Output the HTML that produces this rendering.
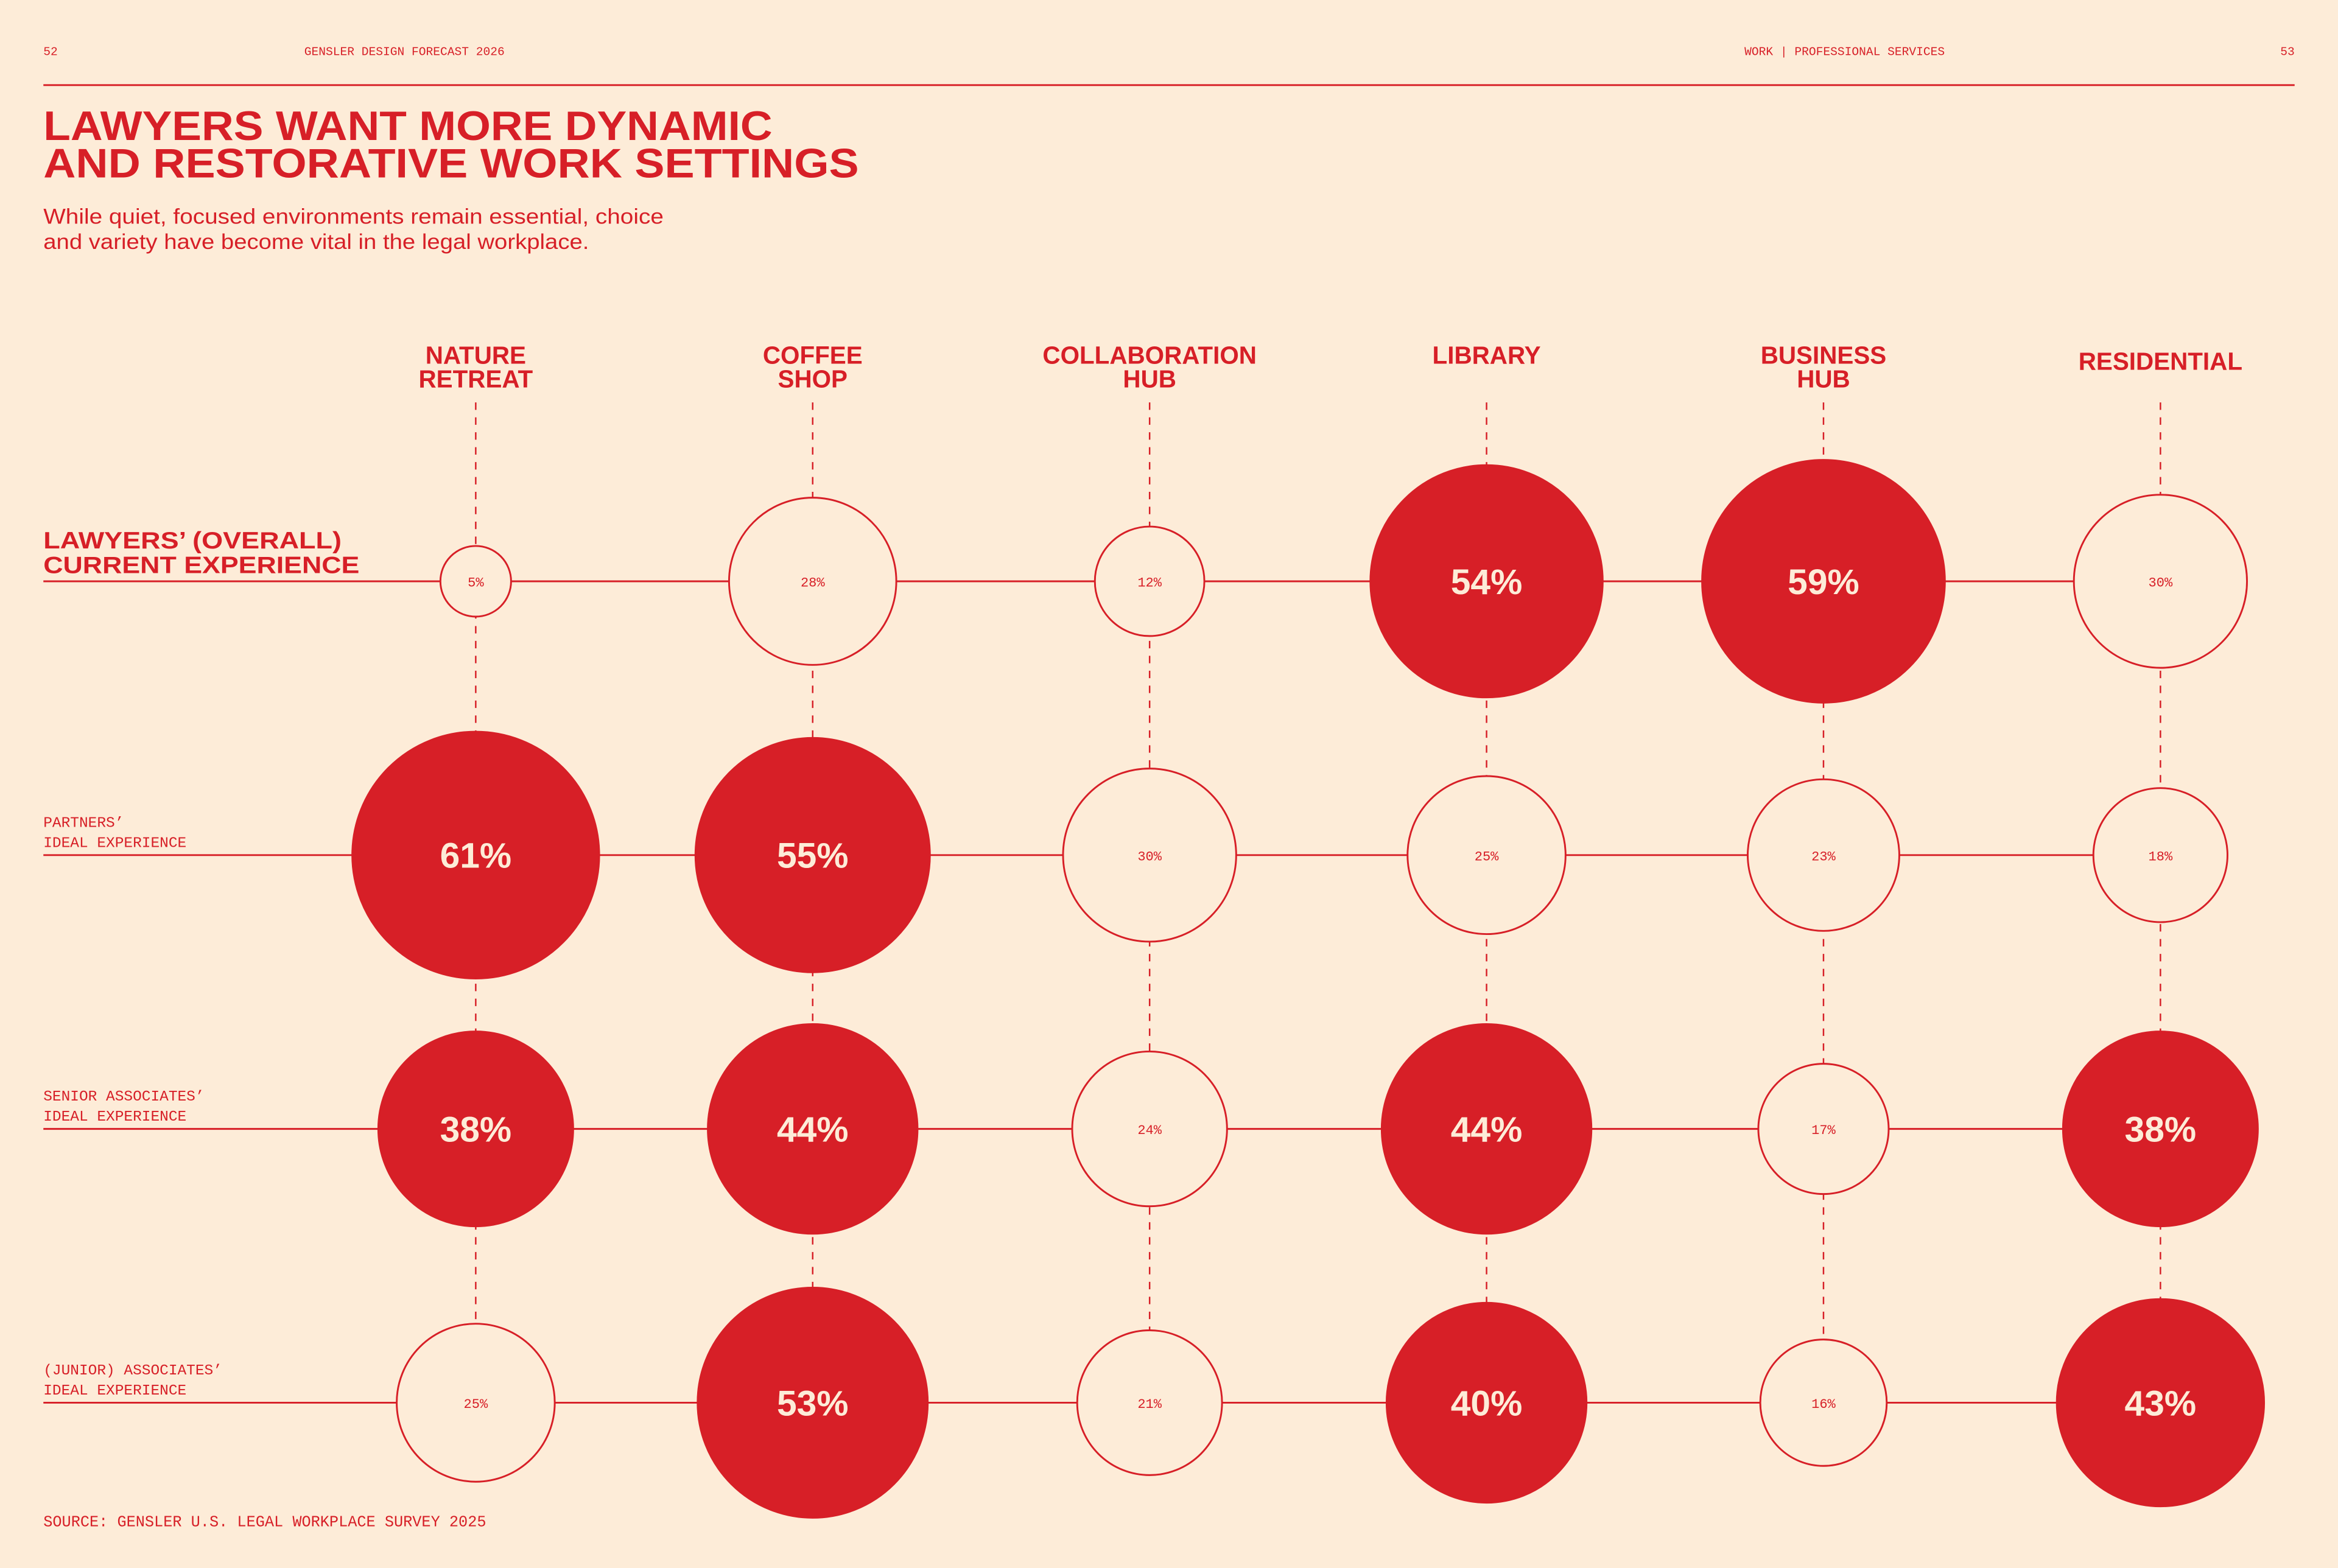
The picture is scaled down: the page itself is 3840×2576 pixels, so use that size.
<!DOCTYPE html>
<html><head><meta charset="utf-8"><style>
html,body{margin:0;padding:0;background:#fdecd8;}
svg{display:block;}
</style></head><body>
<svg id="chart" width="3840" height="2576" viewBox="0 0 1568 1052" xmlns="http://www.w3.org/2000/svg" font-family="Liberation Sans, sans-serif">
<rect width="1568" height="1052" fill="#fdecd8"/>
<g fill="#d71f27">
<text x="29" y="37" font-family="Liberation Mono, monospace" font-size="8">52</text>
<text x="204" y="37" font-family="Liberation Mono, monospace" font-size="8">GENSLER DESIGN FORECAST 2026</text>
<text x="1170" y="37" font-family="Liberation Mono, monospace" font-size="8">WORK | PROFESSIONAL SERVICES</text>
<text x="1539" y="37" text-anchor="end" font-family="Liberation Mono, monospace" font-size="8">53</text>
<rect x="29" y="56.5" width="1510" height="1.2"/>
<text font-weight="bold" font-size="27.5"><tspan x="29" y="94" textLength="489" lengthAdjust="spacingAndGlyphs">LAWYERS WANT MORE DYNAMIC</tspan><tspan x="29" y="119" textLength="547" lengthAdjust="spacingAndGlyphs">AND RESTORATIVE WORK SETTINGS</tspan></text>
<text font-size="14.5"><tspan x="29" y="150" textLength="416" lengthAdjust="spacingAndGlyphs">While quiet, focused environments remain essential, choice</tspan><tspan x="29" y="167" textLength="366" lengthAdjust="spacingAndGlyphs">and variety have become vital in the legal workplace.</tspan></text>
<text x="29" y="1024" font-family="Liberation Mono, monospace" font-size="10.5" textLength="297" lengthAdjust="spacingAndGlyphs">SOURCE: GENSLER U.S. LEGAL WORKPLACE SURVEY 2025</text>
</g>
<g id="plot"></g>
<script>
const categories = ["NATURE|RETREAT","COFFEE|SHOP","COLLABORATION|HUB","LIBRARY","BUSINESS|HUB","RESIDENTIAL"];
const groups = ["LAWYERS’ (OVERALL)|CURRENT EXPERIENCE","PARTNERS’|IDEAL EXPERIENCE","SENIOR ASSOCIATES’|IDEAL EXPERIENCE","(JUNIOR) ASSOCIATES’|IDEAL EXPERIENCE"];
const overall = [5,28,12,54,59,30];
const partners = [61,55,30,25,23,18];
const seniorAssociates = [38,44,24,44,17,38];
const juniorAssociates = [25,53,21,40,16,43];
const series = [overall, partners, seniorAssociates, juniorAssociates];
const highlightThreshold = 38;

const NS = "http://www.w3.org/2000/svg";
const RED = "#d71f27", BG = "#fdecd8";
const plot = document.getElementById("plot");
const xScale = i => 319 + i * 226;
const yScale = j => 390 + j * 183.7;
const rScale = v => 10.6 * Math.sqrt(v);
function mk(tag, attrs){ const e=document.createElementNS(NS,tag); for(const k in attrs) e.setAttribute(k,attrs[k]); plot.appendChild(e); return e; }

categories.forEach((c,i)=>{
  const lastY = yScale(series.length-1);
  const l = mk("line",{x1:xScale(i),x2:xScale(i),y1:270,y2:lastY,stroke:RED,"stroke-width":1,"stroke-dasharray":"5 5"});
  
  
  const parts = c.split("|");
  const t = mk("text",{x:xScale(i),"text-anchor":"middle",fill:RED,"font-weight":"bold","font-size":16.5});
  
  
  const y0 = parts.length===1 ? (c==="LIBRARY"?244:248) : 244;
  parts.forEach((p,k)=>{ const s=document.createElementNS(NS,"tspan"); s.setAttribute("x",xScale(i)); s.setAttribute("y",y0+k*16); s.textContent=p; t.appendChild(s); });
});
groups.forEach((g,j)=>{
  const y = yScale(j);
  const l = mk("line",{x1:29,x2:xScale(categories.length-1),y1:y,y2:y,stroke:RED,"stroke-width":1.2});
  
  
  const parts = g.split("|");
  const bold = j===0;
  const t = mk("text",{fill:RED,"font-size":bold?16:10,"font-weight":bold?"bold":"normal","font-family":bold?"Liberation Sans, sans-serif":"Liberation Mono, monospace"});
  
  
  parts.forEach((p,k)=>{ const s=document.createElementNS(NS,"tspan"); s.setAttribute("x",29); s.setAttribute("y", bold ? y-22+k*16.5 : y-19+k*13.5); if(bold){ s.setAttribute("textLength", k===0?200:212); s.setAttribute("lengthAdjust","spacingAndGlyphs"); } s.textContent=p; t.appendChild(s); });
});
series.forEach((vals,j)=>{
  vals.forEach((v,i)=>{
    const cx=xScale(i), cy=yScale(j), r=rScale(v);
    const filled = v>=highlightThreshold;
    const c = mk("circle",{cx:cx,cy:cy,r:r,fill:filled?RED:BG,stroke:RED,"stroke-width":1.2});
    
    
    const t = mk("text",{x:cx,y:filled?cy+8.5:cy+3.5,"text-anchor":"middle",fill:filled?"#fdecd8":RED,"font-size":filled?24:9,"font-weight":filled?"bold":"normal","font-family":filled?"Liberation Sans, sans-serif":"Liberation Mono, monospace"});
    
    
    t.textContent = v+"%";
  });
});
</script>
</svg>
</body></html>
